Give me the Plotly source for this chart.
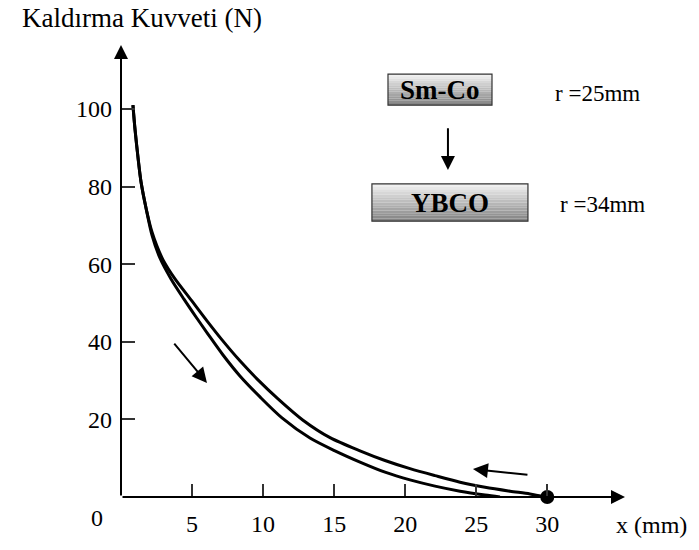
import plotly.graph_objects as go

# Lift force (N) versus distance x (mm): upper and lower branches of the hysteresis loop
x_upper = [0.84, 0.99, 1.20, 1.41, 1.76, 2.18, 2.53, 2.96, 3.80, 4.93, 6.05, 7.11, 8.37,
           9.64, 11.05, 12.81, 14.71, 16.82, 18.58, 20.34, 22.10, 23.86, 25.62, 27.38,
           28.78, 29.91]
f_upper = [101.0, 94.6, 87.4, 81.2, 74.5, 68.3, 64.7, 61.1, 56.2, 50.8, 45.4, 40.5, 35.1,
           30.2, 25.3, 19.8, 15.3, 11.9, 9.4, 7.3, 5.5, 3.8, 2.5, 1.5, 0.8, 0.0]
x_lower = [0.84, 0.99, 1.20, 1.41, 1.76, 2.18, 2.74, 3.52, 4.43, 5.28, 6.12, 7.18, 8.37,
           9.78, 11.33, 13.30, 15.06, 16.82, 18.58, 20.34, 22.10, 23.86, 25.62, 26.67]
f_lower = [101.0, 94.6, 87.4, 81.2, 74.5, 67.5, 61.6, 56.2, 51.0, 46.4, 42.0, 36.6, 31.2,
           25.8, 20.4, 15.2, 11.9, 9.0, 6.4, 4.4, 2.8, 1.5, 0.5, 0.0]

start_point_x = [30]
start_point_f = [0]

x_ticks = [5, 10, 15, 20, 25, 30]
y_ticks = [20, 40, 60, 80, 100]

X_MAX = 35.47
Y_MAX = 116.5
SERIF = "Liberation Serif, Times New Roman, serif"

fig = go.Figure()

for xs, fs in ((x_upper, f_upper), (x_lower, f_lower)):
    fig.add_trace(go.Scatter(
        x=xs, y=fs, mode="lines",
        line=dict(color="black", width=3, shape="spline", smoothing=0.8),
        hoverinfo="skip", showlegend=False, cliponaxis=False,
    ))

fig.add_trace(go.Scatter(
    x=start_point_x, y=start_point_f, mode="markers",
    marker=dict(color="black", size=14),
    showlegend=False, cliponaxis=False,
))

annotations = []


def arrow(x_tip, y_tip, x_tail, y_tail, width=2, size=1.5):
    annotations.append(dict(
        x=x_tip, y=y_tip, ax=x_tail, ay=y_tail,
        xref="x", yref="y", axref="x", ayref="y",
        showarrow=True, arrowhead=2, arrowwidth=width, arrowsize=size,
        arrowcolor="black", text="", standoff=0,
    ))


# axis arrows
arrow(0, Y_MAX, 0, 0, width=2, size=1.4)
arrow(X_MAX, 0, 0, 0, width=2, size=1.4)
# direction arrows
arrow(6.05, 29.4, 3.66, 39.9)
arrow(24.77, 7.22, 28.71, 5.67)
arrow(23.01, 84.3, 23.01, 95.4, size=1.4)


def label(x, y, text, size=22, bold=False, ref="x"):
    annotations.append(dict(
        x=x, y=y, xref="x" if ref == "x" else "paper", yref="y" if ref == "x" else "paper",
        xanchor="center", yanchor="middle",
        text=f"<b>{text}</b>" if bold else text,
        showarrow=False, font=dict(family=SERIF, size=size, color="black"),
    ))


label(0.0417, 1.0597, "Kaldırma Kuvveti (N)", size=27, ref="paper")
label(1.0516, -0.062, "x (mm)", size=24, ref="paper")
label(-0.0476, -0.0465, "0", size=24, ref="paper")
label(33.5, 104.1, "r =25mm", size=23)
label(33.9, 75.3, "r =34mm", size=23)

# gradient boxes holding the material names
shapes = []


def grad_box(x0, x1, y0, y1, text, n=14):
    light, dark = 240, 132
    for i in range(n):
        t = i / (n - 1)
        g = int(round(light + (dark - light) * t))
        ya = y1 - (y1 - y0) * i / n
        yb = y1 - (y1 - y0) * (i + 1) / n
        shapes.append(dict(type="rect", xref="x", yref="y", x0=x0, x1=x1,
                           y0=yb, y1=ya, line=dict(width=0),
                           fillcolor=f"rgb({g},{g},{g})", layer="below"))
    shapes.append(dict(type="rect", xref="x", yref="y", x0=x0, x1=x1,
                       y0=y0, y1=y1, line=dict(color="#333333", width=1.2),
                       fillcolor="rgba(0,0,0,0)", layer="below"))
    label((x0 + x1) / 2, (y0 + y1) / 2, text, size=27, bold=True)


grad_box(18.79, 26.11, 101.0, 109.0, "Sm-Co")
grad_box(17.66, 28.64, 71.1, 80.7, "YBCO")

fig.update_layout(
    width=699, height=550,
    margin=dict(l=121, r=74, t=45, b=53),
    paper_bgcolor="white", plot_bgcolor="white",
    showlegend=False,
    annotations=annotations, shapes=shapes,
    xaxis=dict(
        range=[0, X_MAX], showgrid=False, zeroline=False, showline=False,
        tickvals=x_ticks, ticktext=[str(v) for v in x_ticks],
        ticks="inside", ticklen=13, tickwidth=2, tickcolor="#333333",
        tickfont=dict(family=SERIF, size=24, color="black"),
        ticklabelstandoff=10,
    ),
    yaxis=dict(
        range=[0, Y_MAX], showgrid=False, zeroline=False, showline=False,
        tickvals=y_ticks, ticktext=[str(v) for v in y_ticks],
        ticks="inside", ticklen=14, tickwidth=2, tickcolor="#333333",
        tickfont=dict(family=SERIF, size=24, color="black"),
        ticklabelstandoff=8,
    ),
)

fig.write_html("out.html")
